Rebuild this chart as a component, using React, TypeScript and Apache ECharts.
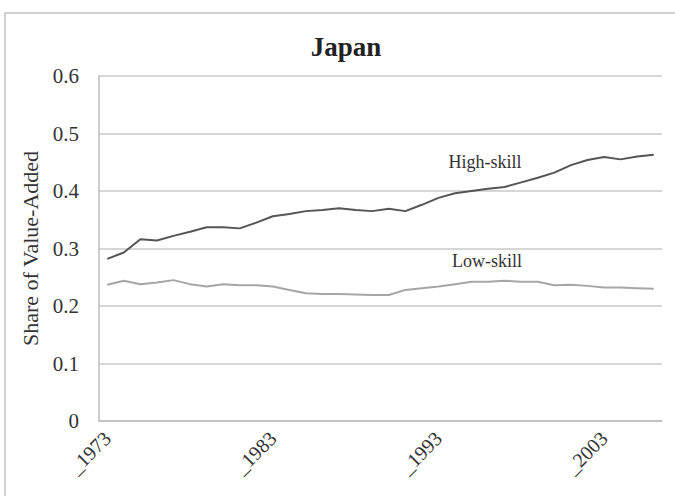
import React, { useEffect, useRef } from "react";
import * as echarts from "echarts";

const years: string[] = [
  "_1973", "_1974", "_1975", "_1976", "_1977", "_1978", "_1979", "_1980", "_1981", "_1982",
  "_1983", "_1984", "_1985", "_1986", "_1987", "_1988", "_1989", "_1990", "_1991", "_1992",
  "_1993", "_1994", "_1995", "_1996", "_1997", "_1998", "_1999", "_2000", "_2001", "_2002",
  "_2003", "_2004", "_2005", "_2006",
];

const highSkill: number[] = [
  0.282, 0.293, 0.316, 0.314, 0.322, 0.329, 0.337, 0.337, 0.335, 0.345,
  0.356, 0.360, 0.365, 0.367, 0.370, 0.367, 0.365, 0.369, 0.365, 0.376,
  0.388, 0.396, 0.400, 0.404, 0.407, 0.415, 0.423, 0.432, 0.445, 0.454,
  0.459, 0.455, 0.460, 0.463,
];

const lowSkill: number[] = [
  0.237, 0.244, 0.238, 0.241, 0.245, 0.238, 0.234, 0.238, 0.236, 0.236,
  0.234, 0.228, 0.222, 0.221, 0.221, 0.220, 0.219, 0.219, 0.228, 0.231,
  0.234, 0.238, 0.242, 0.242, 0.244, 0.242, 0.242, 0.236, 0.237, 0.235,
  0.232, 0.232, 0.231, 0.230,
];

const yTicks = { min: 0, max: 0.6, interval: 0.1 };

const FONT = "'Liberation Serif', 'Times New Roman', 'DejaVu Serif', serif";

export default function App() {
  const ref = useRef<HTMLDivElement>(null);

  useEffect(() => {
    if (!ref.current) return;
    const chart = echarts.init(ref.current, null, { renderer: "svg" });
    chart.setOption({
      animation: false,
      backgroundColor: "#ffffff",
      textStyle: { fontFamily: FONT },
      title: {
        text: "Japan",
        left: 341,
        top: 28,
        textAlign: "center",
        textStyle: { fontFamily: FONT, fontSize: 27, fontWeight: "bold", color: "#222" },
      },
      graphic: [
        {
          type: "rect",
          shape: { x: 5, y: 13, width: 720, height: 520 },
          style: { fill: "none", stroke: "#c4c4c4", lineWidth: 1.5 },
          z: -1,
        },
        {
          type: "text",
          x: 485,
          y: 162,
          style: {
            text: "High-skill",
            font: `18px ${FONT}`,
            fill: "#333",
            align: "center",
            verticalAlign: "middle",
          },
        },
        {
          type: "text",
          x: 487,
          y: 261,
          style: {
            text: "Low-skill",
            font: `18px ${FONT}`,
            fill: "#333",
            align: "center",
            verticalAlign: "middle",
          },
        },
      ],
      grid: { left: 99, right: 13, top: 76, bottom: 75, containLabel: false },
      xAxis: {
        type: "category",
        data: years,
        boundaryGap: true,
        axisLine: { show: true, lineStyle: { color: "#bdbdbd", width: 1.5 } },
        axisTick: { show: false },
        axisLabel: {
          interval: 9,
          rotate: 45,
          margin: 14,
          fontFamily: FONT,
          fontSize: 20,
          color: "#333",
        },
      },
      yAxis: {
        type: "value",
        min: yTicks.min,
        max: yTicks.max,
        interval: yTicks.interval,
        name: "Share of Value-Added",
        nameLocation: "middle",
        nameGap: 58,
        nameTextStyle: { fontFamily: FONT, fontSize: 22, color: "#333" },
        axisLine: { show: true, lineStyle: { color: "#bdbdbd", width: 1.5 } },
        axisTick: { show: false },
        splitLine: { show: true, lineStyle: { color: "#c8c8c8", width: 1.5 } },
        axisLabel: {
          fontFamily: FONT,
          fontSize: 21,
          color: "#333",
          margin: 20,
          formatter: (v: number) => (v === 0 ? "0" : v.toFixed(1)),
        },
      },
      series: [
        {
          name: "High-skill",
          type: "line",
          data: highSkill,
          symbol: "none",
          lineStyle: { color: "#555555", width: 2 },
        },
        {
          name: "Low-skill",
          type: "line",
          data: lowSkill,
          symbol: "none",
          lineStyle: { color: "#a6a6a6", width: 2 },
        },
      ],
    });
    return () => chart.dispose();
  }, []);

  return (
    <div
      ref={ref}
      style={{ position: "fixed", left: 0, top: 0, width: 675, height: 496 }}
    />
  );
}
